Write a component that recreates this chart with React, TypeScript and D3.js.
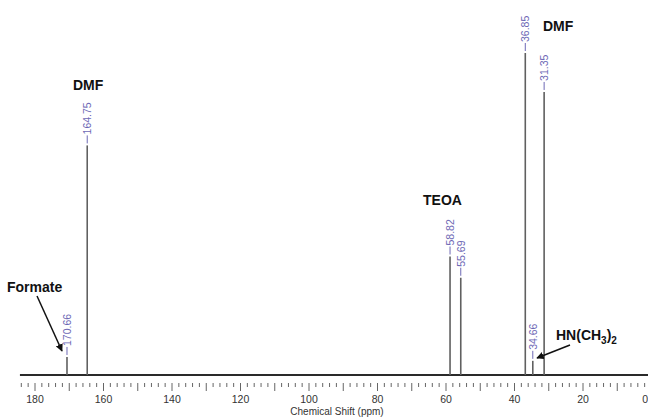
import { useEffect, useRef } from "react";
import * as d3 from "d3";

// peak positions (ppm) and heights (relative, tallest = 100)
const peakShifts = [170.66, 164.75, 58.82, 55.69, 36.85, 34.66, 31.35];
const peakHeights = [5.6, 71.3, 36.8, 30.2, 100, 4.4, 87.9];
const peakLabels = ["170.66", "164.75", "58.82", "55.69", "36.85", "34.66", "31.35"];

const axisTicks = [180, 160, 140, 120, 100, 80, 60, 40, 20, 0];

const App = () => {
  const ref = useRef<HTMLDivElement>(null);

  useEffect(() => {
    const W = 648;
    const H = 418;
    const svg = d3
      .select(ref.current)
      .append("svg")
      .attr("width", W)
      .attr("height", H)
      .style("display", "block")
      .style("font-family", "'Liberation Sans', Arial, sans-serif");

    svg.append("rect").attr("width", W).attr("height", H).attr("fill", "#fff");

    const x = d3.scaleLinear().domain([180, 20]).range([35, 583]);
    const y = d3.scaleLinear().domain([0, 100]).range([375, 53]);

    // baseline of the spectrum
    svg
      .append("line")
      .attr("x1", x(184.4))
      .attr("x2", W)
      .attr("y1", y(0))
      .attr("y2", y(0))
      .attr("stroke", "#2a2a2a")
      .attr("stroke-width", 2);

    // peaks
    const peaks = peakShifts.map((s, i) => ({ s, h: peakHeights[i], label: peakLabels[i] }));
    svg
      .selectAll(".peak")
      .data(peaks)
      .enter()
      .append("line")
      .attr("class", "peak")
      .attr("x1", (d) => x(d.s))
      .attr("x2", (d) => x(d.s))
      .attr("y1", y(0))
      .attr("y2", (d) => y(d.h))
      .attr("stroke", "#606060")
      .attr("stroke-width", 1.6);

    // peak labels: short dash + rotated number
    const lab = svg.selectAll(".plab").data(peaks).enter().append("g").attr("class", "plab");
    lab
      .append("line")
      .attr("x1", (d) => x(d.s))
      .attr("x2", (d) => x(d.s))
      .attr("y1", (d) => y(d.h) - 2)
      .attr("y2", (d) => y(d.h) - 10)
      .attr("stroke", "#6d68b5")
      .attr("stroke-width", 1);
    lab
      .append("text")
      .attr("transform", (d) => `translate(${x(d.s) + 3.8},${y(d.h) - 11}) rotate(-90)`)
      .attr("fill", "#6d68b5")
      .style("font-size", "10.5px")
      .text((d) => d.label);

    // axis ticks: minor every 2 ppm, major every 10 ppm
    const minor = d3.range(184, -1, -2);
    svg
      .selectAll(".tick")
      .data(minor)
      .enter()
      .append("line")
      .attr("x1", (d) => x(d))
      .attr("x2", (d) => x(d))
      .attr("y1", 383)
      .attr("y2", (d) => (d % 10 === 0 ? 391 : 387))
      .attr("stroke", "#666")
      .attr("stroke-width", 1);

    svg
      .selectAll(".tlab")
      .data(axisTicks)
      .enter()
      .append("text")
      .attr("x", (d) => (d === 0 ? W : x(d)))
      .attr("y", 403)
      .attr("text-anchor", (d) => (d === 0 ? "end" : "middle"))
      .attr("fill", "#333")
      .style("font-size", "10.5px")
      .text((d) => d);

    svg
      .append("text")
      .attr("x", 337)
      .attr("y", 415)
      .attr("text-anchor", "middle")
      .attr("fill", "#333")
      .style("font-size", "10px")
      .text("Chemical Shift (ppm)");

    // compound annotations
    const bold = (tx: number, ty: number) =>
      svg
        .append("text")
        .attr("x", tx)
        .attr("y", ty)
        .attr("fill", "#111")
        .style("font-size", "14px")
        .style("font-weight", "bold");

    bold(73, 90).text("DMF");
    bold(543, 31).text("DMF");
    bold(423, 205).text("TEOA");
    bold(7, 292).text("Formate");
    const hn = bold(556, 340);
    hn.append("tspan").text("HN(CH");
    hn.append("tspan").attr("dy", 4).style("font-size", "10px").text("3");
    hn.append("tspan").attr("dy", -4).text(")");
    hn.append("tspan").attr("dy", 4).style("font-size", "10px").text("2");

    const defs = svg.append("defs");
    defs
      .append("marker")
      .attr("id", "arr")
      .attr("viewBox", "0 0 10 10")
      .attr("refX", 9)
      .attr("refY", 5)
      .attr("markerWidth", 5)
      .attr("markerHeight", 5)
      .attr("orient", "auto")
      .append("path")
      .attr("d", "M0,0L10,5L0,10z")
      .attr("fill", "#111");

    svg
      .append("line")
      .attr("x1", 37)
      .attr("y1", 296)
      .attr("x2", 62)
      .attr("y2", 351)
      .attr("stroke", "#111")
      .attr("stroke-width", 1.5)
      .attr("marker-end", "url(#arr)");
    svg
      .append("line")
      .attr("x1", 570)
      .attr("y1", 345)
      .attr("x2", 537)
      .attr("y2", 358)
      .attr("stroke", "#111")
      .attr("stroke-width", 1.5)
      .attr("marker-end", "url(#arr)");

    return () => {
      svg.remove();
    };
  }, []);

  return <div ref={ref} style={{ position: "absolute", left: 0, top: 0 }}></div>;
};

export default App;
